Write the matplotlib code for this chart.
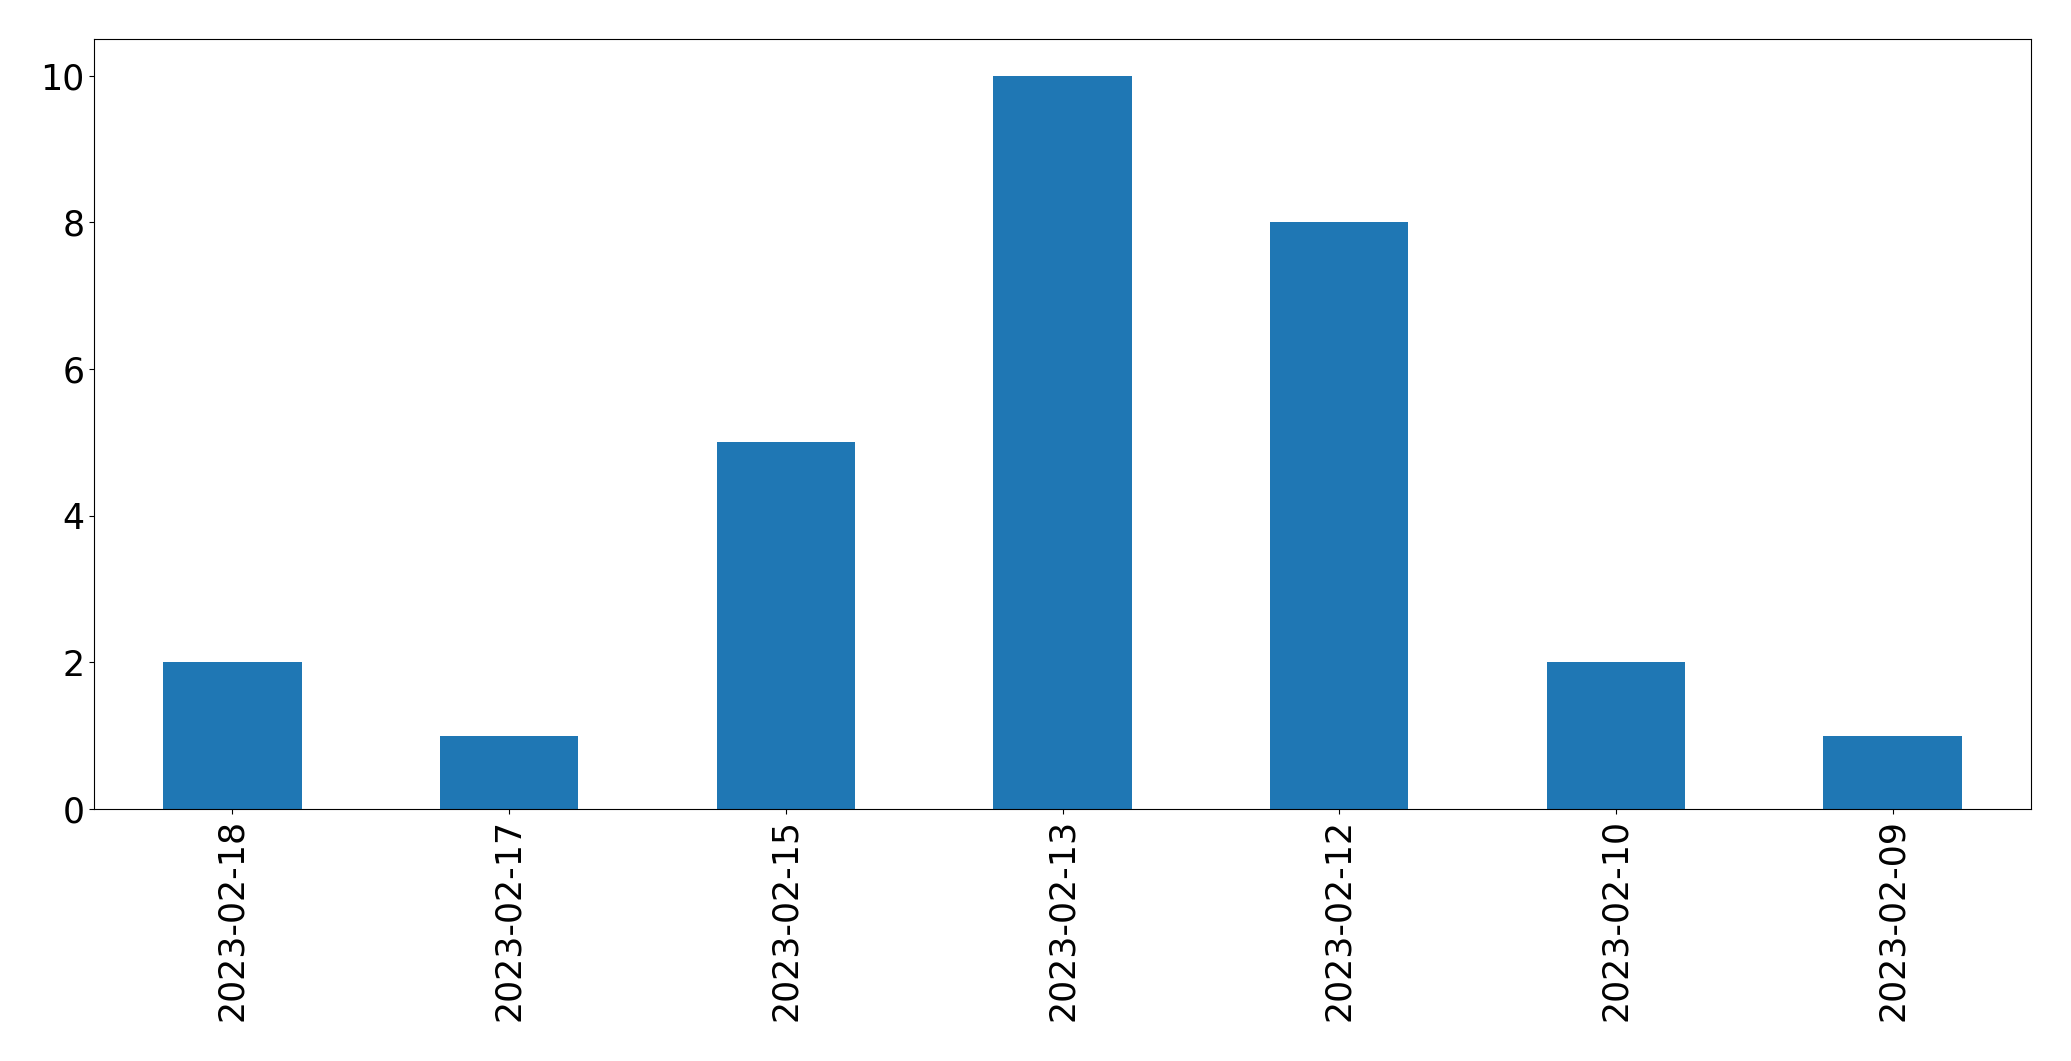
import matplotlib
matplotlib.use("Agg")
import matplotlib.pyplot as plt
import pandas as pd

dates = ["2023-02-18", "2023-02-17", "2023-02-15", "2023-02-13",
         "2023-02-12", "2023-02-10", "2023-02-09"]
counts = [2, 1, 5, 10, 8, 2, 1]


def main():
    s = pd.Series(counts, index=dates)

    fig = plt.figure(figsize=(20.71, 10.61), dpi=100)
    ax = fig.add_axes([94 / 2071, 1 - 809 / 1061, (2031 - 94) / 2071, (809 - 39) / 1061])
    s.plot(kind="bar", ax=ax, color="#1f77b4")
    ax.tick_params(axis="both", labelsize=25)
    fig.savefig("out.png", dpi=100)


if __name__ == "__main__":
    main()
